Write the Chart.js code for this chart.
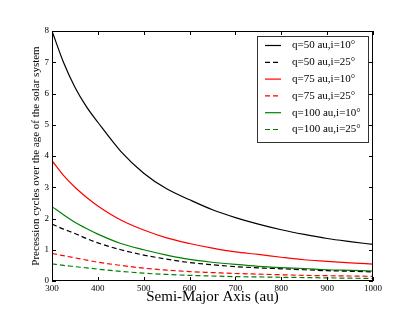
<!DOCTYPE html>
<html>
<head>
<meta charset="utf-8">
<script src="https://cdn.jsdelivr.net/npm/chart.js@4.4.0/dist/chart.umd.min.js"></script>
<style>
  html, body { margin: 0; padding: 0; background: #fff; }
</style>
</head>
<body>
<canvas id="chartCanvas" width="415" height="312"></canvas>
<script>
// semi-major axis (au)
const semiMajor = [300, 325, 350, 375, 400, 450, 500, 550, 600, 650, 700, 750, 800, 850, 900, 950, 1000];

// precession cycles
const q50i10  = [8.0, 7.0, 6.2, 5.58, 5.08, 4.15, 3.45, 2.95, 2.6, 2.28, 2.03, 1.82, 1.64, 1.49, 1.36, 1.26, 1.17];
const q50i25  = [1.82, 1.66, 1.52, 1.36, 1.22, 1.0, 0.83, 0.7, 0.59, 0.52, 0.46, 0.42, 0.39, 0.36, 0.33, 0.31, 0.29];
const q75i10  = [3.85, 3.38, 3.0, 2.68, 2.4, 1.95, 1.63, 1.38, 1.2, 1.05, 0.93, 0.85, 0.76, 0.68, 0.63, 0.58, 0.54];
const q75i25  = [0.88, 0.81, 0.74, 0.67, 0.6, 0.5, 0.41, 0.35, 0.3, 0.27, 0.24, 0.22, 0.2, 0.18, 0.17, 0.16, 0.15];
const q100i10 = [2.38, 2.12, 1.88, 1.68, 1.5, 1.2, 1.0, 0.83, 0.69, 0.6, 0.53, 0.47, 0.43, 0.4, 0.36, 0.34, 0.32];
const q100i25 = [0.55, 0.5, 0.46, 0.42, 0.38, 0.31, 0.25, 0.21, 0.18, 0.16, 0.14, 0.13, 0.12, 0.11, 0.1, 0.09, 0.08];

const labels = ['q=50 au,i=10°', 'q=50 au,i=25°', 'q=75 au,i=10°', 'q=75 au,i=25°', 'q=100 au,i=10°', 'q=100 au,i=25°'];
const series = [q50i10, q50i25, q75i10, q75i25, q100i10, q100i25];
const colors = ['#000000', '#000000', '#ff0000', '#ff0000', '#008000', '#008000'];
const dashed = [false, true, false, true, false, true];

const serif = "'Liberation Serif', 'DejaVu Serif', serif";

function toPoints(vals) {
    return vals.map((v, i) => ({ x: semiMajor[i], y: v }));
}

// frame, inward ticks and boxed legend, matplotlib style
const framePlugin = {
    id: 'frame',
    afterDraw(chart) {
        const ctx = chart.ctx;
        const a = chart.chartArea;
        const xs = chart.scales.x, ys = chart.scales.y;
        ctx.save();
        ctx.strokeStyle = '#000';
        ctx.lineWidth = 1;
        ctx.strokeRect(a.left + 0.5, a.top + 0.5, a.right - a.left - 1, a.bottom - a.top - 1);
        ctx.beginPath();
        xs.ticks.forEach(t => {
            const px = Math.round(xs.getPixelForValue(t.value)) + 0.5;
            ctx.moveTo(px, a.bottom); ctx.lineTo(px, a.bottom - 4);
            ctx.moveTo(px, a.top); ctx.lineTo(px, a.top + 4);
        });
        ys.ticks.forEach(t => {
            const py = Math.round(ys.getPixelForValue(t.value)) + 0.5;
            ctx.moveTo(a.left, py); ctx.lineTo(a.left + 4, py);
            ctx.moveTo(a.right, py); ctx.lineTo(a.right - 4, py);
        });
        ctx.stroke();

        // legend box
        const bx = 257, by = 36, bw = 111, bh = 106;
        ctx.fillStyle = '#fff';
        ctx.fillRect(bx, by, bw, bh);
        ctx.strokeStyle = '#333';
        ctx.strokeRect(bx + 0.5, by + 0.5, bw, bh);
        ctx.font = '11px ' + serif;
        ctx.textBaseline = 'middle';
        chart.data.datasets.forEach((ds, i) => {
            const y = 45.5 + i * 16.8;
            ctx.strokeStyle = ds.borderColor;
            ctx.lineWidth = 1.2;
            ctx.setLineDash(ds.borderDash || []);
            ctx.beginPath();
            ctx.moveTo(265, y); ctx.lineTo(281, y);
            ctx.stroke();
            ctx.setLineDash([]);
            ctx.fillStyle = '#000';
            ctx.fillText(ds.label, 292, y);
        });
        ctx.restore();
    }
};

const ctx = document.getElementById('chartCanvas').getContext('2d');
const myChart = new Chart(ctx, {
    type: 'line',
    data: {
        datasets: series.map((vals, i) => ({
            label: labels[i],
            data: toPoints(vals),
            borderColor: colors[i],
            borderWidth: 1.2,
            borderDash: dashed[i] ? [5, 3] : [],
            pointRadius: 0,
            fill: false,
            cubicInterpolationMode: 'monotone'
        }))
    },
    options: {
        responsive: false,
        animation: false,
        layout: { padding: { left: 0, right: 42, top: 31, bottom: 0 } },
        plugins: { legend: { display: false }, tooltip: { enabled: false } },
        scales: {
            x: {
                type: 'linear',
                min: 300,
                max: 1000,
                grid: { display: false, drawTicks: false },
                border: { display: false },
                ticks: { stepSize: 100, padding: 2, autoSkip: false, maxRotation: 0, color: '#000',
                         font: { family: serif, size: 9 }, callback: v => String(v) },
                title: { display: true, text: 'Semi-Major Axis (au)', color: '#000', font: { family: serif, size: 15 }, padding: { top: 0, bottom: 6 } },
                afterFit(scale) { scale.height = 31; }
            },
            y: {
                min: 0,
                max: 8,
                grid: { display: false, drawTicks: false },
                border: { display: false },
                ticks: { stepSize: 1, padding: 3, autoSkip: false, color: '#000', font: { family: serif, size: 9 } },
                title: { display: true, text: 'Precession cycles over the age of the solar system', color: '#000', font: { family: serif, size: 11 }, padding: { top: 30, bottom: 0 } },
                afterFit(scale) { scale.width = 52; }
            }
        }
    },
    plugins: [framePlugin]
});
</script>
</body>
</html>
